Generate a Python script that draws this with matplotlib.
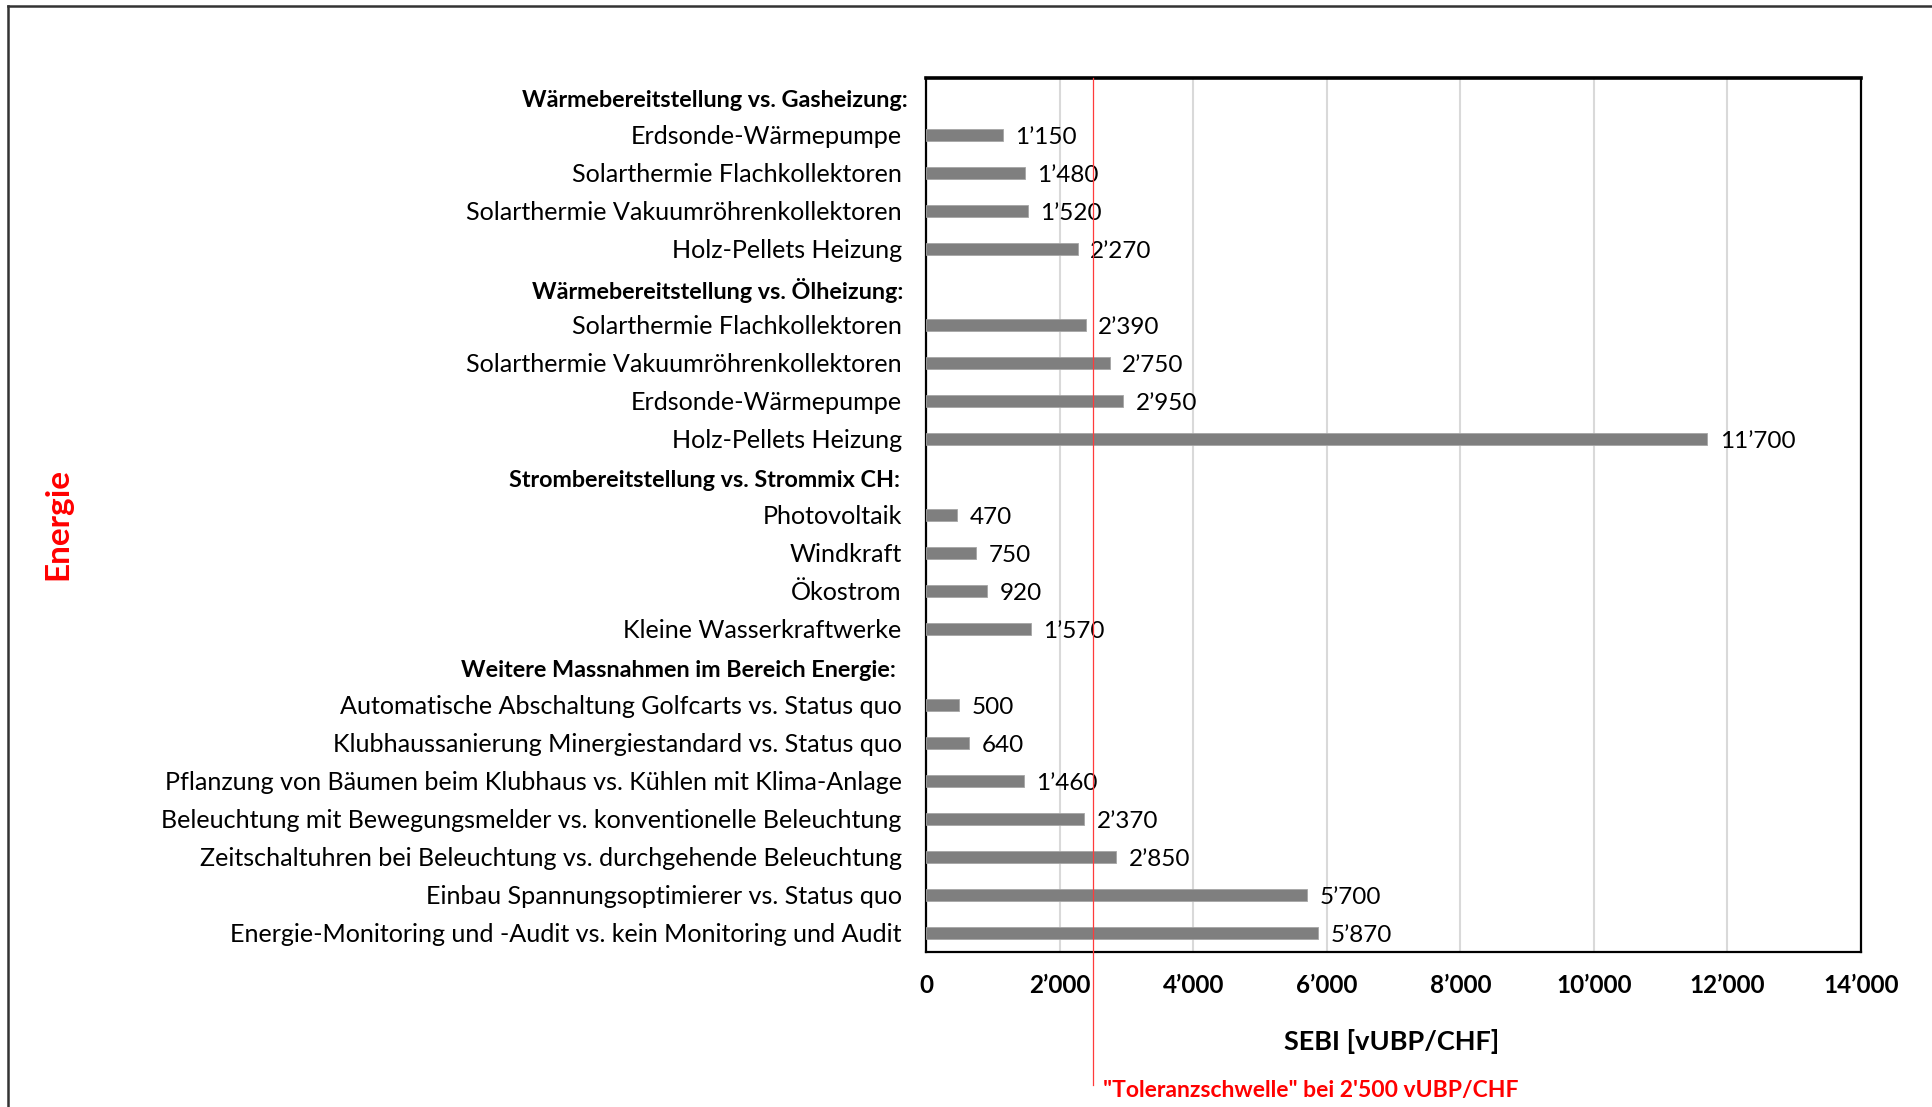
import numpy as np
import matplotlib
matplotlib.use("Agg")
import matplotlib.pyplot as plt
import matplotlib.transforms as mtransforms
from matplotlib.lines import Line2D

plt.rcParams['font.family'] = ['Lato', 'DejaVu Sans']

# Rows from top to bottom; group headers carry no value
labels = [
    "Wärmebereitstellung vs. Gasheizung:",
    "Erdsonde-Wärmepumpe",
    "Solarthermie Flachkollektoren",
    "Solarthermie Vakuumröhrenkollektoren",
    "Holz-Pellets Heizung",
    "Wärmebereitstellung vs. Ölheizung:",
    "Solarthermie Flachkollektoren",
    "Solarthermie Vakuumröhrenkollektoren",
    "Erdsonde-Wärmepumpe",
    "Holz-Pellets Heizung",
    "Strombereitstellung vs. Strommix CH:",
    "Photovoltaik",
    "Windkraft",
    "Ökostrom",
    "Kleine Wasserkraftwerke",
    "Weitere Massnahmen im Bereich Energie:",
    "Automatische Abschaltung Golfcarts vs. Status quo",
    "Klubhaussanierung Minergiestandard vs. Status quo",
    "Pflanzung von Bäumen beim Klubhaus vs. Kühlen mit Klima-Anlage",
    "Beleuchtung mit Bewegungsmelder vs. konventionelle Beleuchtung",
    "Zeitschaltuhren bei Beleuchtung vs. durchgehende Beleuchtung",
    "Einbau Spannungsoptimierer vs. Status quo",
    "Energie-Monitoring und -Audit vs. kein Monitoring und Audit",
]
values = [
    None, 1150, 1480, 1520, 2270,
    None, 2390, 2750, 2950, 11700,
    None, 470, 750, 920, 1570,
    None, 500, 640, 1460, 2370, 2850, 5700, 5870,
]
is_header = [v is None for v in values]

xticks = [0, 2000, 4000, 6000, 8000, 10000, 12000, 14000]
threshold = 2500


def swiss(v):
    s = f"{int(v):,}"
    return s.replace(",", "\u2019")


W, H = 1932, 1107
fig = plt.figure(figsize=(W / 100, H / 100), dpi=100)
fig.patch.set_facecolor("white")

ax = fig.add_axes([926 / W, 1 - 952 / H, 935 / W, 874 / H])

n = len(labels)
ypos = np.arange(n)
for y, v in zip(ypos, values):
    if v is None:
        continue
    ax.barh(y, v, height=0.34, color="#7f7f7f", edgecolor="#a6a6a6",
            linewidth=0.6, zorder=3)
    ax.text(v + 190, y + 0.06, swiss(v), va="center", ha="left",
            fontsize=17.5, color="black", zorder=4)

ax.set_xlim(0, 14000)
ax.set_ylim(n - 0.5, -0.5)
ax.set_xticks(xticks)
ax.set_xticklabels([swiss(t) for t in xticks], fontsize=17.5,
                   fontweight="bold")
ax.tick_params(axis="x", length=0, pad=16)
ax.set_yticks(ypos)
ax.set_yticklabels(["" if h else l for l, h in zip(labels, is_header)],
                   fontsize=18.1)
ax.tick_params(axis="y", length=0, pad=17.5)

# Group headers in bold
trans = mtransforms.blended_transform_factory(fig.transFigure, ax.transData)
header_right = [908, 903, 900, 896]
k = 0
for y, l, h in zip(ypos, labels, is_header):
    if h:
        ax.text(header_right[k] / W, y + 0.08, l, transform=trans,
                ha="right", va="center", fontsize=16.8, fontweight="bold")
        k += 1

ax.grid(axis="x", color="#d9d9d9", linewidth=1.5, zorder=0)
ax.set_axisbelow(True)
for side in ["left", "right", "bottom"]:
    ax.spines[side].set_color("black")
    ax.spines[side].set_linewidth(1.6)
ax.spines["top"].set_color("black")
ax.spines["top"].set_linewidth(2.6)

ax.set_xlabel("SEBI [vUBP/CHF]", fontsize=19.5, fontweight="bold",
              va="center")
ax.xaxis.set_label_coords((1392 - 926) / 935, -(1041 - 952) / 874)

# Tolerance threshold line reaching below the axis
tline = mtransforms.blended_transform_factory(ax.transData, ax.transAxes)
ax.plot([threshold, threshold], [1.0, -(1085 - 952) / 874], transform=tline,
        color="#ff3b3b", linewidth=0.9, clip_on=False, zorder=5)
fig.text(1103 / W, 1 - 1090 / H,
         "\"Toleranzschwelle\" bei 2'500 vUBP/CHF", color="#ff0000",
         fontsize=16.5, fontweight="bold", ha="left", va="center")

fig.text(58 / W, 1 - 524 / H, "Energie", color="#ff0000", fontsize=24,
         fontweight="bold", rotation=90, ha="center", va="center")

# Outer frame lines (top and left)
fig.add_artist(Line2D([8 / W, 1], [1 - 6 / H, 1 - 6 / H],
                      transform=fig.transFigure, color="#333333",
                      linewidth=1.8))
fig.add_artist(Line2D([8 / W, 8 / W], [0, 1 - 6 / H],
                      transform=fig.transFigure, color="#333333",
                      linewidth=1.8))

fig.savefig("out.png", dpi=100, facecolor="white")
